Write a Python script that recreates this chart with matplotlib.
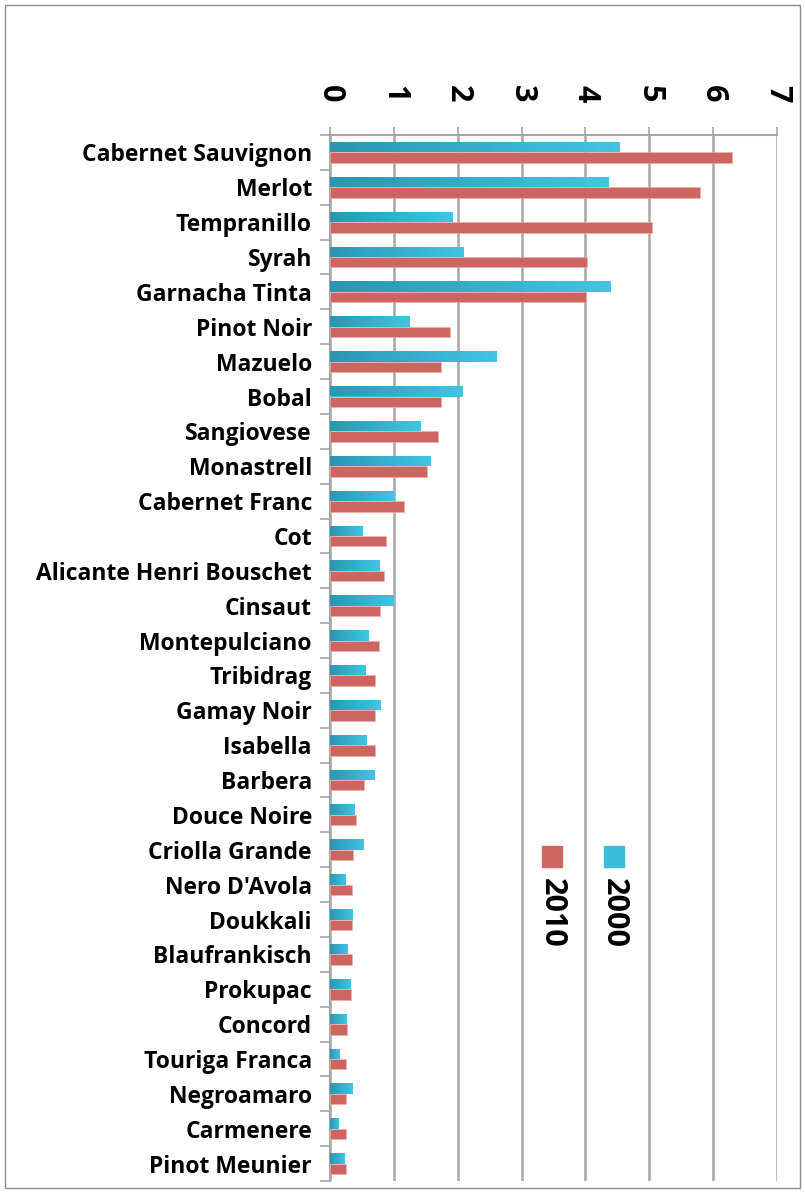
import numpy as np
import matplotlib.pyplot as plt
from matplotlib.colors import LinearSegmentedColormap
from matplotlib.patches import Rectangle

varieties = ["Cabernet Sauvignon", "Merlot", "Tempranillo", "Syrah", "Garnacha Tinta",
             "Pinot Noir", "Mazuelo", "Bobal", "Sangiovese", "Monastrell",
             "Cabernet Franc", "Cot", "Alicante Henri Bouschet", "Cinsaut", "Montepulciano",
             "Tribidrag", "Gamay Noir", "Isabella", "Barbera", "Douce Noire",
             "Criolla Grande", "Nero D'Avola", "Doukkali", "Blaufrankisch", "Prokupac",
             "Concord", "Touriga Franca", "Negroamaro", "Carmenere", "Pinot Meunier"]
y2000 = [4.54, 4.36, 1.92, 2.09, 4.40, 1.25, 2.61, 2.07, 1.42, 1.58,
         1.01, 0.51, 0.77, 1.00, 0.60, 0.56, 0.79, 0.57, 0.69, 0.38,
         0.52, 0.25, 0.35, 0.28, 0.32, 0.26, 0.15, 0.35, 0.13, 0.23]
y2010 = [6.30, 5.80, 5.05, 4.03, 4.01, 1.88, 1.74, 1.74, 1.69, 1.52,
         1.16, 0.88, 0.85, 0.78, 0.76, 0.70, 0.70, 0.70, 0.53, 0.40,
         0.36, 0.35, 0.35, 0.34, 0.33, 0.27, 0.25, 0.25, 0.25, 0.25]
xticks = [0, 1, 2, 3, 4, 5, 6, 7]

red = '#cd6660'
blue = '#3bbcda'
grid_c = '#a6a6a6'
font = 'Open Sans'

fig = plt.figure(figsize=(8.05, 11.92), dpi=100)
fig.patches.append(Rectangle((5/805, 4/1192), 795/805, 1183/1192, transform=fig.transFigure,
                             fill=False, edgecolor='#8c8c8c', lw=1))
ax = fig.add_axes([330/805, 11/1192, 447/805, 1046/1192])

y = np.arange(len(varieties))
h = 0.3
bars_b = ax.barh(y - h/2, y2000, height=h, color=blue, zorder=3)
bars_r = ax.barh(y + h/2, y2010, height=h, color=red, edgecolor='#e8b0ad', lw=0.5, zorder=3)

# gradient on the 2000 bars
cmap = LinearSegmentedColormap.from_list('teal', ['#2a97b2', '#40c5e3'])
grad = np.linspace(0, 1, 64).reshape(1, -1)
for b in bars_b:
    x0, y0 = b.get_x(), b.get_y()
    im = ax.imshow(grad, cmap=cmap, aspect='auto', zorder=4,
                   extent=[x0, x0 + b.get_width(), y0 + b.get_height(), y0])
    im.set_clip_path(b)

ax.set_xlim(0, 7)
ax.set_ylim(len(varieties) - 0.5, -0.5)

ax.xaxis.tick_top()
ax.set_xticks(xticks)
ax.set_xticklabels([str(t) for t in xticks], rotation=-90, fontsize=22,
                   fontweight='bold', family=font)
ax.tick_params(axis='x', length=6, width=1.2, color=grid_c, pad=17.5)
ax.grid(axis='x', color=grid_c, lw=1.8, zorder=0)

ax.set_yticks(y)
ax.set_yticklabels(varieties, fontsize=16.5, fontweight='bold', family=font)
ax.set_yticks(np.arange(len(varieties) + 1) - 0.5, minor=True)
ax.tick_params(axis='y', which='major', length=0, pad=13)
ax.tick_params(axis='y', which='minor', length=7, width=1.2, color=grid_c)

for s in ['right', 'bottom']:
    ax.spines[s].set_visible(False)
for s in ['left', 'top']:
    ax.spines[s].set_color(grid_c)
    ax.spines[s].set_linewidth(1.5)

# legend, rotated like the axis labels
for xc, col, lab in [(0.496, red, '2010'), (0.634, blue, '2000')]:
    ax.add_patch(Rectangle((xc - 0.022, 0.300), 0.046, 0.02, transform=ax.transAxes,
                           color=col, zorder=5, clip_on=False))
    ax.text(xc, 0.290, lab, transform=ax.transAxes, rotation=-90, ha='center', va='top',
            fontsize=22, fontweight='bold', family=font)

fig.savefig('out.png', dpi=100)
